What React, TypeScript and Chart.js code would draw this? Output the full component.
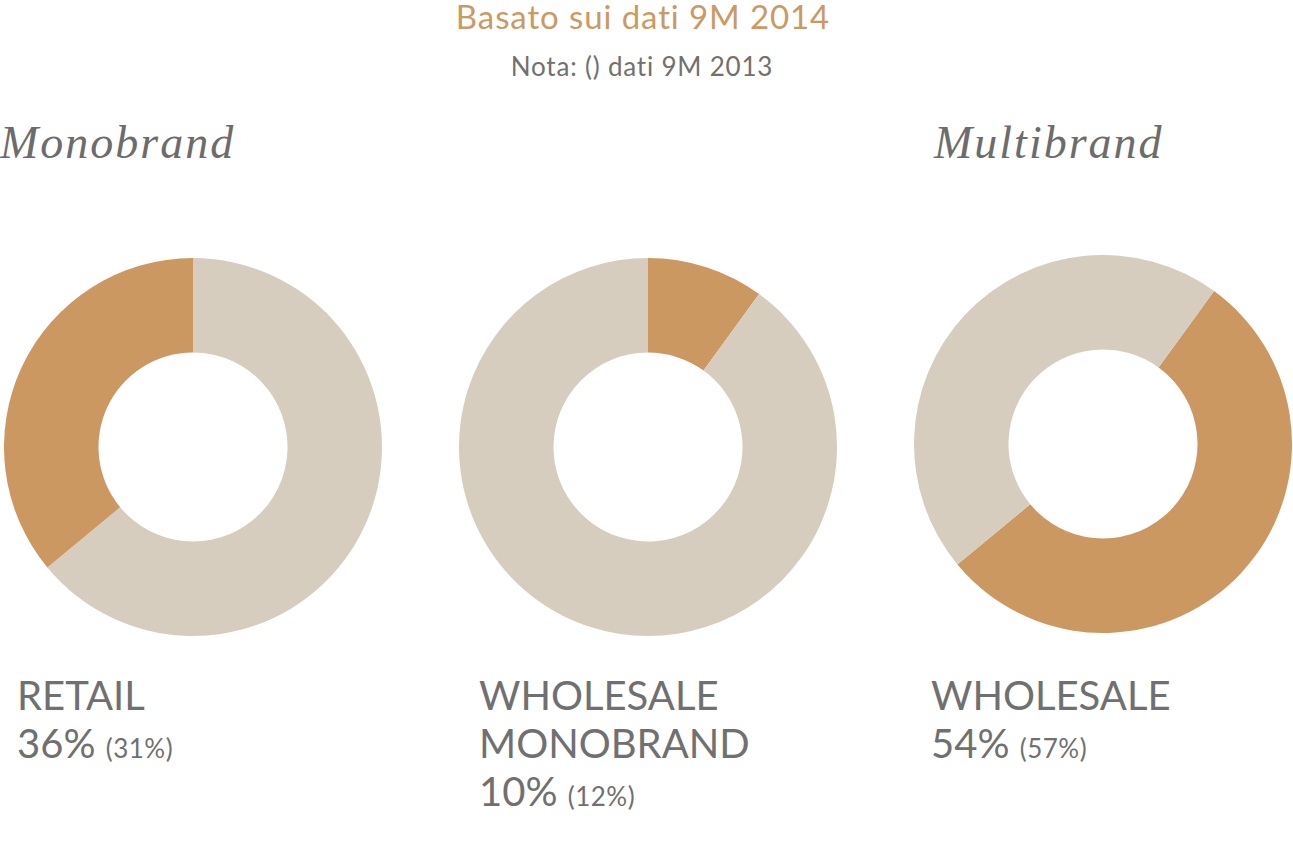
import React, { useEffect, useRef } from "react";
import { Chart, registerables } from "chart.js";

Chart.register(...registerables);

const ORANGE = "#CC9862";
const BEIGE = "#D7CDBF";
const TEXT = "#707070";

const title = "Basato sui dati 9M 2014";
const subtitle = "Nota: () dati 9M 2013";
const groupLabels = ["Monobrand", "Multibrand"];

const retailValues = [64, 36];
const retailColors = [BEIGE, ORANGE];
const wholesaleMonoValues = [10, 90];
const wholesaleMonoColors = [ORANGE, BEIGE];
const wholesaleMultiValues = [54, 46];
const wholesaleMultiColors = [ORANGE, BEIGE];

const labelLines = [["RETAIL"], ["WHOLESALE", "MONOBRAND"], ["WHOLESALE"]];
const mainPct = ["36%", "10%", "54%"];
const prevPct = ["(31%)", "(12%)", "(57%)"];

function Donut({ values, colors, rotation, left, top, size }: any) {
  const ref = useRef<HTMLCanvasElement>(null);
  useEffect(() => {
    const chart = new Chart(ref.current as HTMLCanvasElement, {
      type: "doughnut",
      data: {
        labels: values.map((_: number, i: number) => String(i)),
        datasets: [{ data: values, backgroundColor: colors, borderWidth: 0, hoverOffset: 0 }],
      },
      options: {
        animation: false,
        responsive: false,
        cutout: "50%",
        rotation,
        layout: { padding: 0 },
        plugins: { legend: { display: false }, tooltip: { enabled: false }, title: { display: false } },
      },
    });
    return () => chart.destroy();
  }, []);
  return (
    <div style={{ position: "absolute", left, top, width: size, height: size }}>
      <canvas ref={ref} width={size} height={size} style={{ width: size, height: size }} />
    </div>
  );
}

export default function App() {
  const sans = "Lato, 'Noto Sans', sans-serif";
  const serif = "'Liberation Serif', 'DejaVu Serif', serif";
  const labelLefts = [17, 479, 931];
  return (
    <div style={{ position: "absolute", left: 0, top: 0, width: 1293, height: 865, background: "#fff", overflow: "hidden" }}>
      <div style={{ position: "absolute", left: 0, width: 1286, top: -4, textAlign: "center", fontFamily: sans, fontWeight: 400, fontSize: 33, letterSpacing: 0.9, color: "#CB9963", lineHeight: "40px" }}>
        {title}
      </div>
      <div style={{ position: "absolute", left: 0, width: 1284, top: 50, textAlign: "center", fontFamily: sans, fontWeight: 400, fontSize: 26, letterSpacing: 0.8, color: TEXT, lineHeight: "32px" }}>
        {subtitle}
      </div>
      <div style={{ position: "absolute", left: 0, top: 116, fontFamily: serif, fontStyle: "italic", fontSize: 46, color: "#6c6c6c", letterSpacing: 2 }}>
        {groupLabels[0]}
      </div>
      <div style={{ position: "absolute", left: 934, top: 116, fontFamily: serif, fontStyle: "italic", fontSize: 46, color: "#6c6c6c", letterSpacing: 2 }}>
        {groupLabels[1]}
      </div>
      <Donut values={retailValues} colors={retailColors} rotation={0} left={4} top={258} size={378} />
      <Donut values={wholesaleMonoValues} colors={wholesaleMonoColors} rotation={0} left={459} top={258} size={378} />
      <Donut values={wholesaleMultiValues} colors={wholesaleMultiColors} rotation={36} left={914} top={255} size={378} />
      {labelLefts.map((x, i) => (
        <div key={i} style={{ position: "absolute", left: x, top: 671, fontFamily: sans, fontWeight: 400, fontSize: 40, letterSpacing: 0, color: TEXT, lineHeight: "48px" }}>
          {labelLines[i].map((l, j) => (
            <div key={j}>{l}</div>
          ))}
          <div>
            {mainPct[i]} <span style={{ fontSize: 26, letterSpacing: 0.5 }}>{prevPct[i]}</span>
          </div>
        </div>
      ))}
    </div>
  );
}
